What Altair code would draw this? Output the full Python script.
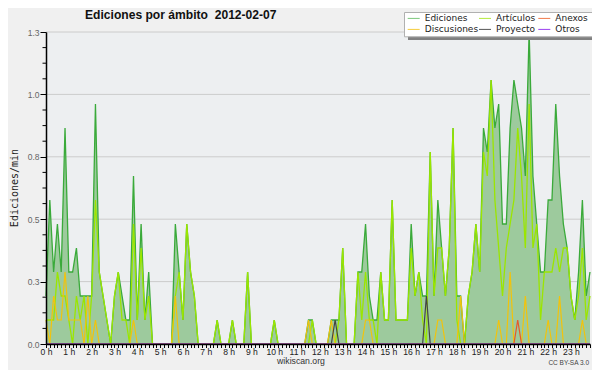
import altair as alt
import pandas as pd

# edits per 10-minute slot (144 slots: 00:00 ... 23:50)
ediciones = [
    2, 6, 3, 5, 3, 9, 3, 3, 4, 2,
    2, 2, 2, 10, 3, 2, 1, 0, 2, 3,
    2, 1, 1, 7, 1, 5, 1, 3, 0, 0,
    0, 0, 0, 0, 5, 3, 1, 5, 3, 2,
    0, 0, 0, 0, 0, 1, 0, 0, 0, 1,
    0, 0, 0, 3, 0, 0, 0, 0, 0, 0,
    1, 0, 0, 0, 0, 0, 0, 0, 0, 1,
    1, 0, 0, 0, 0, 1, 1, 1, 4, 0,
    0, 0, 3, 3, 5, 2, 1, 1, 3, 1,
    1, 6, 1, 1, 1, 1, 5, 2, 3, 2,
    2, 8, 2, 6, 4, 2, 4, 9, 2, 2,
    0, 2, 3, 5, 3, 9, 8, 11, 9, 10,
    5, 5, 9, 11, 10, 9, 7, 13, 7, 5,
    3, 3, 6, 6, 10, 7, 5, 4, 2, 1,
    3, 6, 2, 3,
]
articulos = [
    1, 1, 1, 3, 2, 2, 1, 0, 2, 1,
    2, 0, 2, 6, 3, 2, 1, 0, 2, 3,
    1, 1, 0, 5, 1, 4, 1, 2, 0, 0,
    0, 0, 0, 0, 2, 3, 1, 5, 3, 2,
    0, 0, 0, 0, 0, 1, 0, 0, 0, 1,
    0, 0, 0, 3, 0, 0, 0, 0, 0, 0,
    1, 0, 0, 0, 0, 0, 0, 0, 0, 0,
    1, 0, 0, 0, 0, 0, 0, 1, 4, 0,
    0, 0, 3, 1, 3, 1, 1, 0, 3, 1,
    1, 6, 1, 1, 1, 1, 4, 2, 3, 1,
    0, 8, 2, 4, 4, 2, 4, 9, 1, 0,
    0, 2, 3, 5, 3, 8, 7, 11, 6, 4,
    2, 4, 5, 6, 9, 7, 4, 10, 4, 5,
    1, 3, 3, 3, 4, 3, 4, 4, 2, 1,
    2, 4, 1, 2,
]
# sparse series: {slot: edits}
discusiones = {0: 1, 2: 2, 3: 1, 4: 1, 5: 3, 6: 1, 7: 1, 8: 1, 9: 1, 11: 2, 13: 1,
               23: 1, 34: 2, 69: 1, 75: 1, 84: 1, 85: 1, 103: 1, 104: 1, 109: 2,
               119: 1, 122: 3, 126: 2, 132: 1, 135: 2, 141: 1}
anexos = {124: 1}
proyecto = {76: 1, 100: 2}
otros = {}

SLOT_MIN = 10
N = len(ediciones)
y_ticks = [0, 0.26, 0.52, 0.78, 1.04, 1.3]
minor_step = 0.065

series_names = ["Ediciones", "Artículos", "Anexos", "Discusiones", "Proyecto", "Otros"]
series_colors = ["#7cc87c", "#b4ea3c", "#f07848", "#f5cc3c", "#555555", "#9b40f0"]

def full(sparse):
    return [sparse.get(i, 0) for i in range(N)]

df = pd.DataFrame({
    "slot": list(range(N)),
    "ed": [v / SLOT_MIN for v in ediciones],
    "art": [v / SLOT_MIN for v in articulos],
    "disc": [v / SLOT_MIN for v in full(discusiones)],
    "anx": [v / SLOT_MIN for v in full(anexos)],
    "proy": [v / SLOT_MIN for v in full(proyecto)],
    "otr": [v / SLOT_MIN for v in full(otros)],
})

FONT = "Liberation Sans, Arial, sans-serif"
xscale = alt.Scale(domain=[0, N - 1], nice=False, zero=False)
yscale = alt.Scale(domain=[0, 1.3], nice=False, zero=True)

x_axis = alt.Axis(
    values=list(range(N)),
    labelExpr="datum.value % 6 === 0 ? (datum.value / 6) + ' h' : ''",
    title=None, grid=False, tickSize=3.5, tickColor="#000", tickWidth=1,
    domainColor="#000", domainWidth=1.5, labelFont=FONT, labelFontSize=8.6,
    labelColor="#222", labelPadding=0, labelOverlap=False, labelFlush=False,
    labelAlign="center", zindex=1,
)
y_axis = alt.Axis(
    values=y_ticks, format=".1f", title=None, grid=False, tickSize=6,
    tickColor="#000", domainColor="#000", domainWidth=1.5, labelFont=FONT,
    labelFontSize=8.5, labelColor="#666", labelPadding=1, zindex=1,
)

base = alt.Chart(df)
X = alt.X("slot:Q", scale=xscale, axis=x_axis)

def Y(field):
    return alt.Y(field, type="quantitative", scale=yscale, axis=y_axis)

grid = alt.Chart(pd.DataFrame({"v": y_ticks[1:]})).mark_rule(
    color="#cccccc", strokeWidth=1
).encode(y=Y("v"))

area = base.mark_area(color="#9dca9d", opacity=1).encode(x=X, y=Y("ed"))
line_ed = base.mark_line(color="#3aaa3a", strokeWidth=1.3).encode(x=X, y=Y("ed"))
line_art = base.mark_line(color="#9be600", strokeWidth=1.3).encode(x=X, y=Y("art"))
line_disc = base.mark_line(color="#f2c30c", strokeWidth=1.2).encode(x=X, y=Y("disc"))
line_anx = base.mark_line(color="#e8582a", strokeWidth=1.2).encode(x=X, y=Y("anx"))
line_proy = base.mark_line(color="#444444", strokeWidth=1.2).encode(x=X, y=Y("proy"))
line_otr = base.mark_line(color="#9b40f0", strokeWidth=1.2).encode(x=X, y=Y("otr"))

minor_vals = [round(k * minor_step, 3) for k in range(1, 20) if k % 4]
minor = alt.Chart(pd.DataFrame({"v": minor_vals})).mark_rule(
    color="#000", strokeWidth=1
).encode(y=Y("v"), x=alt.value(-3.5), x2=alt.value(0))

# title and footer texts
title = alt.Chart(pd.DataFrame({"t": ["Ediciones por ámbito\u00a0 2012-02-07"]})).mark_text(
    font=FONT, fontSize=12.1, fontWeight="bold", align="left", baseline="alphabetic", color="#111"
).encode(text="t:N", x=alt.value(39), y=alt.value(-13))
ylab = alt.Chart(pd.DataFrame({"t": ["Ediciones/min"]})).mark_text(
    font="DejaVu Sans Mono", fontSize=10, angle=270, align="center", baseline="middle", color="#222"
).encode(text="t:N", x=alt.value(-31), y=alt.value(156))
site = alt.Chart(pd.DataFrame({"t": ["wikiscan.org"]})).mark_text(
    font=FONT, fontSize=8.7, align="center", baseline="alphabetic", color="#333"
).encode(text="t:N", x=alt.value(255), y=alt.value(332))
lic = alt.Chart(pd.DataFrame({"t": ["CC BY-SA 3.0"]})).mark_text(
    font=FONT, fontSize=6.5, align="right", baseline="alphabetic", color="#444"
).encode(text="t:N", x=alt.value(543), y=alt.value(333))

# legend box
shadow = alt.Chart(pd.DataFrame({"a": [0]})).mark_rect(color="#808080").encode(
    x=alt.value(362), x2=alt.value(550), y=alt.value(-16.5), y2=alt.value(8))
box = alt.Chart(pd.DataFrame({"a": [0]})).mark_rect(
    fill="#ffffff", stroke="#b0b0b0", strokeWidth=1).encode(
    x=alt.value(358.5), x2=alt.value(547), y=alt.value(-19.5), y2=alt.value(4.8))
col_x = [361.7, 433, 492.3]
row_y = [-13.6, -2.6]
leg = pd.DataFrame({
    "name": series_names,
    "color": series_colors,
    "lx": [col_x[i % 3] for i in range(6)],
    "ly": [row_y[i // 3] for i in range(6)],
})
leg["lx2"] = leg["lx"] + 12
leg["tx"] = leg["lx"] + 17
leg_lines = alt.Chart(leg).mark_rule(strokeWidth=1).encode(
    x=alt.X("lx:Q", scale=None), x2="lx2:Q", y=alt.Y("ly:Q", scale=None),
    color=alt.Color("color:N", scale=None))
leg_text = alt.Chart(leg).mark_text(
    font="DejaVu Sans", fontSize=9, align="left", baseline="middle", color="#222"
).encode(x=alt.X("tx:Q", scale=None), y=alt.Y("ly:Q", scale=None), text="name:N")

chart = alt.layer(
    grid, area, line_ed, line_art, line_disc, line_anx, line_proy, line_otr,
    minor, title, ylab, site, lic, shadow, box, leg_lines, leg_text,
).properties(
    width=544, height=312,
    padding={"left": 38, "top": 24, "right": 2, "bottom": 26},
    autosize=alt.AutoSizeParams(type="none"),
    background="#f0f0f0",
).configure_view(fill="#edeff1", stroke=None)

chart.save("out.html", embed_options={"renderer": "svg", "actions": False})
